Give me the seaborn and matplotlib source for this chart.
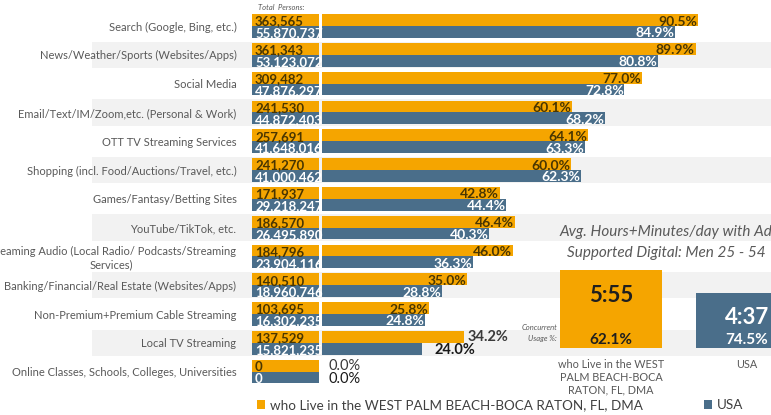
import seaborn as sns
import pandas as pd
import matplotlib.pyplot as plt


categories = [
    "Search (Google, Bing, etc.)",
    "News/Weather/Sports (Websites/Apps)",
    "Social Media",
    "Email/Text/IM/Zoom,etc. (Personal & Work)",
    "OTT TV Streaming Services",
    "Shopping (incl. Food/Auctions/Travel, etc.)",
    "Games/Fantasy/Betting Sites",
    "YouTube/TikTok, etc.",
    "Streaming Audio (Local Radio/ Podcasts/Streaming\nServices)",
    "Banking/Financial/Real Estate (Websites/Apps)",
    "Non-Premium+Premium Cable Streaming",
    "Local TV Streaming",
    "Online Classes, Schools, Colleges, Universities",
]
local_persons = [363565, 361343, 309482, 241530, 257691, 241270, 171937,
                 186570, 184796, 140510, 103695, 137529, 0]
usa_persons = [55870737, 53123072, 47876297, 44872403, 41648016, 41000462, 29218247,
               26495890, 23904116, 18960746, 16302235, 15821235, 0]
local_pct = [90.5, 89.9, 77.0, 60.1, 64.1, 60.0, 42.8, 46.4, 46.0, 35.0, 25.8, 34.2, 0.0]
usa_pct = [84.9, 80.8, 72.8, 68.2, 63.3, 62.3, 44.4, 40.3, 36.3, 28.8, 24.8, 24.0, 0.0]
series_names = ["who Live in the WEST PALM BEACH-BOCA RATON, FL, DMA", "USA"]

# right panel: avg hours+minutes/day
panel_labels = ["who Live in the WEST\nPALM BEACH-BOCA\nRATON, FL, DMA", "USA"]
panel_minutes = [355, 277]
panel_time = ["5:55", "4:37"]
panel_concurrent = [62.1, 74.5]

ORANGE = "#F5A500"
BLUE = "#4A6E8A"
GREY_TXT = "#595959"
ON_ORANGE = "#4a3600"
W, H = 771, 415

sns.set_theme(style="white")
plt.rcParams["font.family"] = ["Lato", "DejaVu Sans"]

n = len(categories)
df = pd.DataFrame({
    "category": categories * 2,
    "series": [series_names[0]] * n + [series_names[1]] * n,
    "pct": local_pct + usa_pct,
    "persons": local_persons + usa_persons,
    "cell": 1,
})


def rect(x0, y0, x1, y1):
    # pixel box -> figure fraction [left, bottom, width, height]
    return [x0 / W, 1 - y1 / H, (x1 - x0) / W, (y1 - y0) / H]


fig = plt.figure(figsize=(W / 100, H / 100), dpi=100)

# main percentage bars
ax = fig.add_axes(rect(92, 11.6, 771, 386))
sns.barplot(data=df, y="category", x="pct", hue="series", palette=[ORANGE, BLUE],
            width=0.82, saturation=1, linewidth=0, ax=ax)
px_per_pct = 4.155
for i in range(1, n, 2):
    ax.axhspan(i - 0.46, i + 0.46, color="#F2F2F2", zorder=0, lw=0)
ax.set_xlim((92 - 322) / px_per_pct, (771 - 322) / px_per_pct)
ax.set_ylim(n - 0.5, -0.5)

sns.move_legend(ax, "center left", bbox_to_anchor=(252 / W, 1 - 405 / H),
                bbox_transform=fig.transFigure, ncol=2, frameon=False, title=None,
                fontsize=9.7, handlelength=0.6, handleheight=0.6,
                handletextpad=0.3, columnspacing=4.6, borderaxespad=0,
                labelcolor="#404040")
ax.set_axis_off()

for k, (cont, vals) in enumerate(zip(ax.containers, [local_pct, usa_pct])):
    for i, (bar, v) in enumerate(zip(cont, vals)):
        y = bar.get_y() + bar.get_height() / 2
        x = bar.get_width()
        if i >= 11:
            # short bars: label sits outside
            off = 1.6 if i == 12 else (0.8 if k == 0 else 3.0)
            ax.text(x + off, y + (0.0 if k == 0 else 0.06), f"{v:.1f}%", ha="left", va="center",
                    fontsize=10.5, fontweight="bold" if i == 11 else "normal",
                    color="#3a3a3a" if k == 0 else "#1a1a1a")
        else:
            ax.text(x - 0.2, y + 0.05, f"{v:.1f}%", ha="right", va="center",
                    fontsize=10, fontweight="bold",
                    color=ON_ORANGE if k == 0 else "white")

# total persons column
ax_t = fig.add_axes(rect(251.7, 11.6, 319, 386))
ax_t.patch.set_alpha(0)
sns.barplot(data=df, y="category", x="cell", hue="series", palette=[ORANGE, BLUE],
            width=0.82, saturation=1, linewidth=0, legend=False, ax=ax_t)
ax_t.set_xlim(0, 1)
ax_t.set_ylim(n - 0.5, -0.5)
ax_t.set_xlabel("")
ax_t.set_ylabel("")
ax_t.set_xticks([])
sns.despine(ax=ax_t, left=True, bottom=True)
ax_t.tick_params(axis="y", length=0, pad=11, labelsize=8, labelcolor=GREY_TXT)
for lbl in ax_t.get_yticklabels():
    lbl.set_multialignment("center")
for k, (cont, vals) in enumerate(zip(ax_t.containers, [local_persons, usa_persons])):
    for bar, v in zip(cont, vals):
        y = bar.get_y() + bar.get_height() / 2
        ax_t.text(0.05, y + 0.05, f"{v:,}", ha="left", va="center", fontsize=9.5,
                  fontweight="bold", color=ON_ORANGE if k == 0 else "white",
                  clip_on=False)
fig.text(258 / W, 1 - 8 / H, "Total  Persons:", fontsize=5.5, style="italic",
         color=GREY_TXT, ha="left", va="center")

# right panel
ax_r = fig.add_axes(rect(560, 270, 798, 348))
ax_r.patch.set_alpha(0)
sns.barplot(x=panel_labels, y=panel_minutes, hue=panel_labels, palette=[ORANGE, BLUE],
            width=0.75, saturation=1, linewidth=0, legend=False, ax=ax_r)
ax_r.set_xlim(-0.375, 1.375)
ax_r.set_ylim(90, 355)
ax_r.set_yticks([])
sns.despine(ax=ax_r, left=True, bottom=True)
ax_r.tick_params(axis="x", length=0, pad=8, labelsize=7.8, labelcolor=GREY_TXT)
for i, (m, t, c) in enumerate(zip(panel_minutes, panel_time, panel_concurrent)):
    ax_r.annotate(t, xy=(i, m), xytext=(0, -18), textcoords="offset points",
                  ha="center", va="center", fontsize=16, fontweight="bold",
                  color="#1f1f1f" if i == 0 else "white")
    ax_r.text(i, 0.1, f"{c:.1f}%", transform=ax_r.get_xaxis_transform(),
              ha="center", va="center", fontsize=11, fontweight="bold",
              color="#1f1f1f" if i == 0 else "white")

fig.text(557 / W, 1 - 333 / H, "Concurrent\nUsage %:", fontsize=5.5, style="italic",
         color=GREY_TXT, ha="right", va="center", multialignment="right", linespacing=1.6)
fig.text(666 / W, 1 - 232 / H, "Avg. Hours+Minutes/day with Ad", fontsize=11,
         style="italic", color=GREY_TXT, ha="center", va="center")
fig.text(666 / W, 1 - 253 / H, "Supported Digital: Men 25 - 54", fontsize=11,
         style="italic", color=GREY_TXT, ha="center", va="center")

fig.savefig("out.png", dpi=100)
